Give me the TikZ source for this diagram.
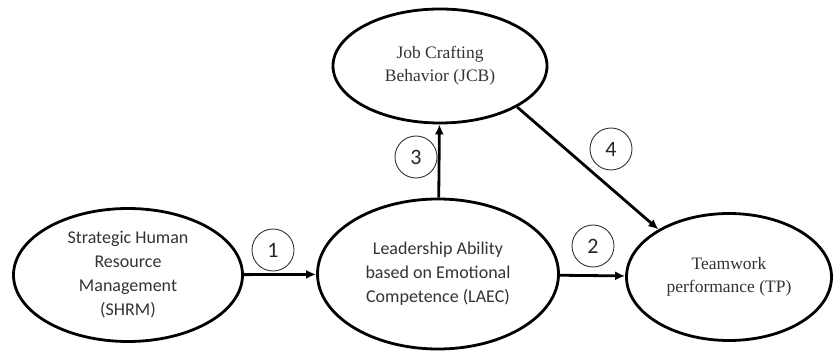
\documentclass[tikz,border=0pt]{standalone}
\usepackage{fontspec}
\setmainfont{Liberation Serif}
\newfontfamily\calibri{Carlito}
\usetikzlibrary{shapes.geometric,arrows.meta}

\begin{document}
\begin{tikzpicture}[x=1pt,y=-1pt,
    construct/.style={ellipse,draw,line width=2.8pt,align=center,inner sep=0pt,text=black!80},
    sansvar/.style={construct,font=\calibri\fontsize{18}{24}\selectfont},
    serifvar/.style={construct,font=\fontsize{17.5}{23}\selectfont},
    hyp/.style={circle,draw=black!80,line width=0.9pt,minimum size=42pt,inner sep=0pt,
        font=\calibri\fontsize{22}{22}\selectfont,text=black!85},
    link/.style={line width=2.8pt,-{Latex[length=10pt,width=9pt]}}]

    \useasboundingbox (0,0) rectangle (840,352);

    \node[sansvar,minimum width=229pt,minimum height=133pt] (SHRM) at (128,275)
        {Strategic Human\\Resource\\Management\\(SHRM)};
    \node[sansvar,minimum width=241pt,minimum height=150pt] (LAEC) at (438,274)
        {Leadership Ability\\based on Emotional\\Competence (LAEC)};
    \node[serifvar,minimum width=214pt,minimum height=114pt] (JCB) at (440,66)
        {Job Crafting\\Behavior (JCB)};
    \node[serifvar,minimum width=205pt,minimum height=127pt] (TP) at (729,277)
        {Teamwork\\performance (TP)};

    \draw[link] (SHRM) -- (LAEC);
    \draw[link] (LAEC) -- (TP);
    \draw[link] (LAEC) -- (JCB);
    \draw[link] (JCB.-28) -- (TP.146);

    \node[hyp] (h1) at (273,250) {1};
    \node[hyp] (h2) at (593,246) {2};
    \node[hyp] (h3) at (416,157) {3};
    \node[hyp] (h4) at (611,149) {4};

\end{tikzpicture}
\end{document}
